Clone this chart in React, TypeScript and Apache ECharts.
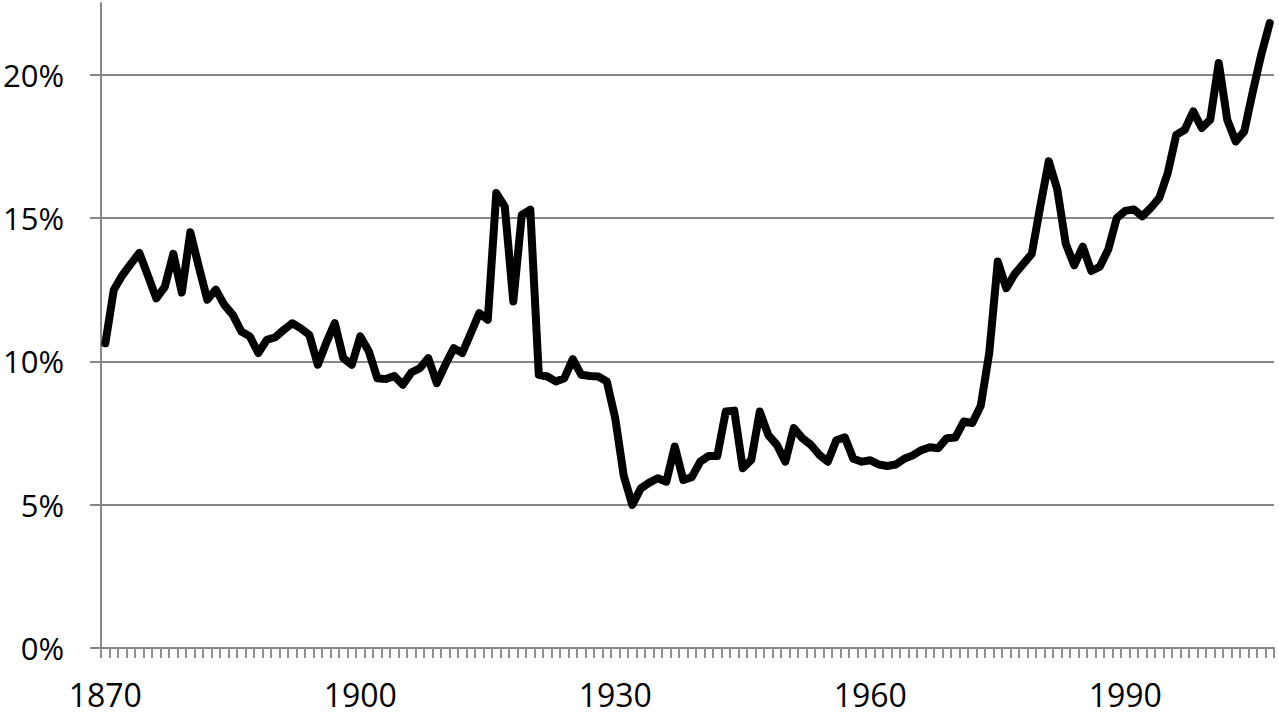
import React, { useEffect, useRef } from "react";
import * as echarts from "echarts";

const FIRST_YEAR = 1870;
const LAST_YEAR = 2007;
const years: string[] = [];
for (let y = FIRST_YEAR; y <= LAST_YEAR; y++) years.push(String(y));

// share in percent, one value per year 1870..2007
const shareValues: number[] = [
  // 1870-1879
  10.63, 12.5, 13.0, 13.4, 13.78, 13.0, 12.2, 12.6, 13.75, 12.4,
  // 1880-1889
  14.5, 13.3, 12.15, 12.5, 11.97, 11.62, 11.04, 10.87, 10.29, 10.75,
  // 1890-1899
  10.84, 11.1, 11.33, 11.15, 10.92, 9.88, 10.65, 11.33, 10.11, 9.88,
  // 1900-1909
  10.87, 10.35, 9.41, 9.38, 9.49, 9.18, 9.61, 9.76, 10.11, 9.24,
  // 1910-1919
  9.88, 10.46, 10.29, 10.98, 11.68, 11.45, 15.87, 15.4, 12.09, 15.11,
  // 1920-1929
  15.29, 9.53, 9.47, 9.3, 9.41, 10.08, 9.53, 9.49, 9.47, 9.3,
  // 1930-1939
  8.0, 6.0, 4.99, 5.57, 5.77, 5.92, 5.8, 7.03, 5.86, 5.96,
  // 1940-1949
  6.5, 6.7, 6.7, 8.25, 8.28, 6.27, 6.56, 8.25, 7.43, 7.09,
  // 1950-1959
  6.5, 7.67, 7.32, 7.09, 6.74, 6.5, 7.25, 7.35, 6.6, 6.5,
  // 1960-1969
  6.55, 6.4, 6.35, 6.4, 6.6, 6.72, 6.9, 7.0, 6.97, 7.32,
  // 1970-1979
  7.34, 7.9, 7.85, 8.45, 10.3, 13.48, 12.55, 13.05, 13.4, 13.75,
  // 1980-1989
  15.4, 16.98, 16.0, 14.1, 13.35, 14.0, 13.15, 13.3, 13.9, 15.0,
  // 1990-1999
  15.25, 15.3, 15.06, 15.35, 15.7, 16.57, 17.9, 18.08, 18.72, 18.14,
  // 2000-2007
  18.43, 20.41, 18.43, 17.67, 18.02, 19.4, 20.7, 21.8,
];

const yMin = 0;
const yMax = 22.5;
const yStep = 5;
const xLabelEvery = 30;

const AXIS_GRAY = "#878787";
const FONT = "'Open Sans', 'Liberation Sans', sans-serif";

export default function App() {
  const ref = useRef<HTMLDivElement | null>(null);

  useEffect(() => {
    document.body.style.margin = "0";
    if (!ref.current) return;
    const chart = echarts.init(ref.current, undefined, { renderer: "svg" });
    chart.setOption({
      animation: false,
      backgroundColor: "#ffffff",
      grid: { left: 101, right: 5, top: 3, bottom: 73, containLabel: false },
      xAxis: {
        type: "category",
        data: years,
        boundaryGap: true,
        axisLine: { show: true, lineStyle: { color: AXIS_GRAY, width: 2 } },
        axisTick: {
          show: true,
          interval: 0,
          alignWithLabel: false,
          length: 10,
          lineStyle: { color: "#8e8e8e", width: 2 },
        },
        axisLabel: {
          interval: xLabelEvery - 1,
          margin: 30,
          color: "#000",
          fontFamily: FONT,
          fontSize: 32,
        },
        splitLine: { show: false },
      },
      yAxis: {
        type: "value",
        min: yMin,
        max: yMax,
        interval: yStep,
        axisLine: { show: true, lineStyle: { color: AXIS_GRAY, width: 2 } },
        axisTick: {
          show: true,
          inside: false,
          length: 11,
          lineStyle: { color: AXIS_GRAY, width: 2 },
        },
        axisLabel: {
          showMaxLabel: false,
          margin: 37,
          color: "#000",
          fontFamily: FONT,
          fontSize: 31,
          formatter: (v: number) => (v % yStep === 0 ? `${v}%` : ""),
        },
        splitLine: {
          show: true,
          lineStyle: {
            color: [AXIS_GRAY, AXIS_GRAY, AXIS_GRAY, AXIS_GRAY, AXIS_GRAY, "rgba(0,0,0,0)"],
            width: 2,
          },
        },
      },
      series: [
        {
          type: "line",
          data: shareValues,
          symbol: "none",
          smooth: false,
          lineStyle: { color: "#000", width: 8, join: "round", cap: "round" },
          z: 5,
        },
      ],
    });
    return () => chart.dispose();
  }, []);

  return (
    <div
      ref={ref}
      style={{ position: "fixed", left: 0, top: 0, width: 1279, height: 721, background: "#fff" }}
    />
  );
}
